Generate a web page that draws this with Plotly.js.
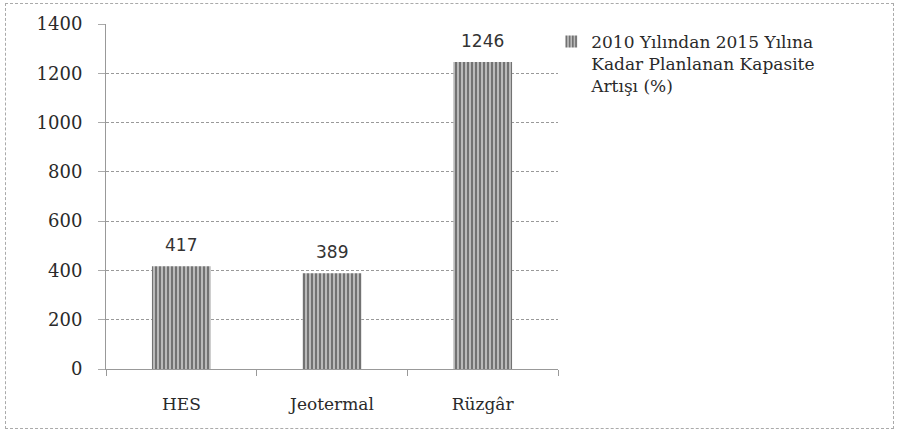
<!DOCTYPE html>
<html><head><meta charset="utf-8">
<script src="https://cdn.plot.ly/plotly-3.0.1.min.js"></script>
<style>
body{margin:0;background:#fff;}
#frame{position:absolute;left:5px;top:3px;width:889px;height:426px;border:1px dashed #aaa;box-sizing:border-box;pointer-events:none;}
#chart{width:901px;height:435px;}
</style>
</head><body>
<div id="chart"></div>
<div id="frame"></div>
<script>
const categories = ["HES", "Jeotermal", "Rüzgâr"];
const values = [417, 389, 1246];
const seriesName = "2010 Yılından 2015 Yılına<br>Kadar Planlanan Kapasite<br>Artışı (%)";
const yTicks = [0, 200, 400, 600, 800, 1000, 1200, 1400];

const SERIF = "'DejaVu Serif', 'Liberation Serif', serif";

const trace = {
  type: "bar",
  x: categories,
  y: values,
  name: seriesName,
  marker: {
    color: "#a8a8a8",
    line: {width: 0},
    pattern: {shape: "|", fgcolor: "#6a6a6a", bgcolor: "#bababa", size: 4, solidity: 0.45}
  },
  width: 0.39,
  showlegend: true
};

const labelAnnotations = categories.map((c, i) => ({
  x: c, y: values[i], xref: "x", yref: "y",
  text: String(values[i]), showarrow: false,
  yanchor: "bottom", yshift: 9,
  font: {family: "'DejaVu Sans', sans-serif", size: 17, color: "#333"}
}));

const layout = {
  width: 901, height: 435,
  margin: {l: 106, r: 343, t: 24, b: 66},
  paper_bgcolor: "#fff", plot_bgcolor: "#fff",
  font: {family: SERIF, size: 18, color: "#2a2a2a"},
  xaxis: {
    showgrid: false, showline: true, linecolor: "#999", linewidth: 1,
    ticks: "outside", tickson: "boundaries", ticklen: 6, tickcolor: "#999",
    tickfont: {family: SERIF, size: 17, color: "#2a2a2a"},
    ticklabelstandoff: 20,
    range: [-0.5, 2.5]
  },
  yaxis: {
    range: [0, 1400], tickvals: yTicks, ticktext: yTicks.map(String),
    showgrid: true, gridcolor: "#999", griddash: "3px,2px", gridwidth: 1,
    showline: true, linecolor: "#999", linewidth: 1,
    ticks: "outside", ticklen: 7, tickcolor: "#aaa",
    ticklabelstandoff: 12,
    zeroline: false,
    tickfont: {family: SERIF, size: 18, color: "#2a2a2a"}
  },
  legend: {
    x: 0.985, y: 1.0, xanchor: "left", yanchor: "top",
    valign: "top",
    font: {family: SERIF, size: 17, color: "#2a2a2a"},
    itemwidth: 30, bgcolor: "rgba(0,0,0,0)", tracegroupgap: 0
  },
  annotations: labelAnnotations,
  bargap: 0.61
};

Plotly.newPlot("chart", [trace], layout, {displayModeBar: false, staticPlot: true});
</script>
</body></html>
